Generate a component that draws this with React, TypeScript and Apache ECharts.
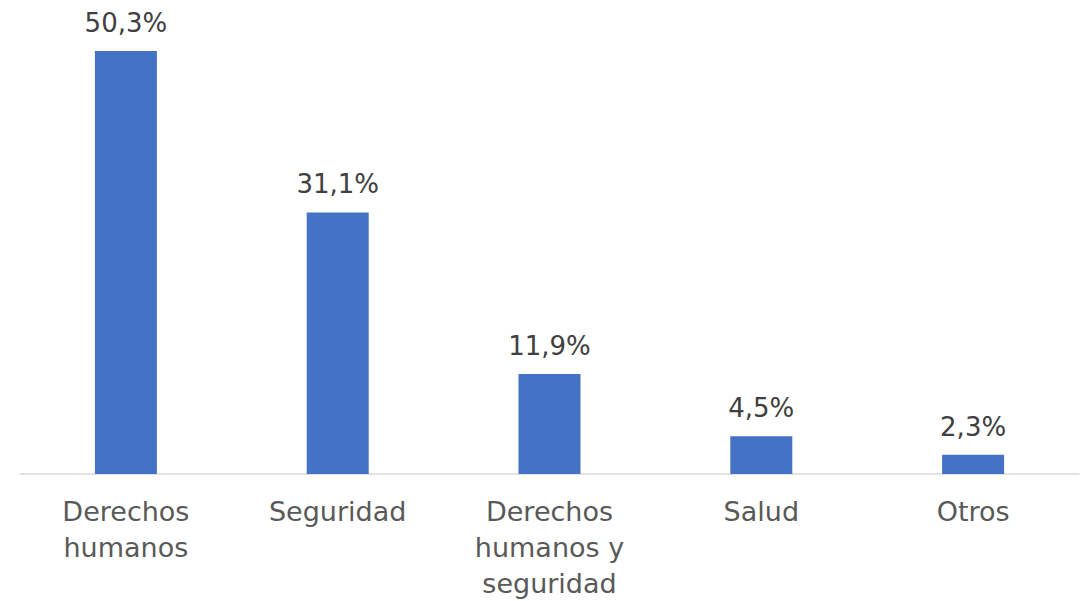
import React, { useEffect, useRef } from "react";
import * as echarts from "echarts";

const categories = ["Derechos\nhumanos", "Seguridad", "Derechos\nhumanos y\nseguridad", "Salud", "Otros"];
const values = [50.3, 31.1, 11.9, 4.5, 2.3];
const valueLabels = ["50,3%", "31,1%", "11,9%", "4,5%", "2,3%"];

const FONT = "'DejaVu Sans', sans-serif";

export default function App() {
  const ref = useRef<HTMLDivElement>(null);
  useEffect(() => {
    document.body.style.margin = "0";
    const chart = echarts.init(ref.current!, null, { renderer: "svg" });
    chart.setOption({
      animation: false,
      grid: { left: 20, right: 13, top: 51, bottom: 119, containLabel: false },
      xAxis: {
        type: "category",
        data: categories,
        axisTick: { show: false },
        axisLine: { lineStyle: { color: "#d9d9d9", width: 1.5 } },
        axisLabel: {
          color: "#595959",
          fontFamily: FONT,
          fontSize: 27,
          lineHeight: 36,
          margin: 19,
          interval: 0,
        },
      },
      yAxis: {
        type: "value",
        min: 0,
        max: 50.3,
        show: false,
        splitLine: { show: false },
      },
      series: [
        {
          type: "bar",
          data: values,
          barWidth: 62,
          itemStyle: { color: "#4472C4" },
          label: {
            show: true,
            position: "top",
            distance: 15,
            color: "#404040",
            fontFamily: FONT,
            fontSize: 26,
            formatter: (p: any) => valueLabels[p.dataIndex],
          },
        },
      ],
    });
    return () => chart.dispose();
  }, []);
  return <div ref={ref} style={{ width: 1092, height: 601 }} />;
}
